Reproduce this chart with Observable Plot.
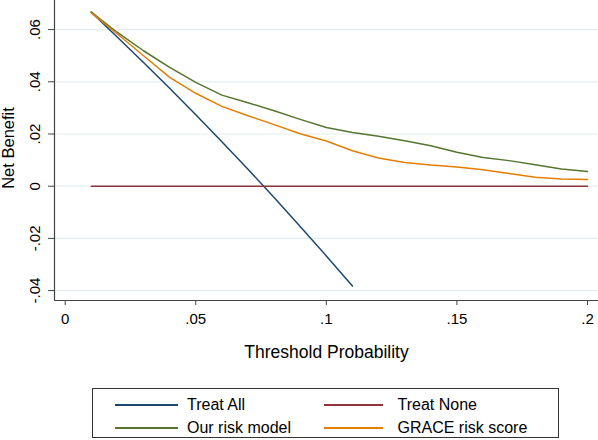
<!DOCTYPE html>
<html><head><meta charset="utf-8">
<script src="https://cdn.jsdelivr.net/npm/d3@7"></script>
<script src="https://cdn.jsdelivr.net/npm/@observablehq/plot@0.6"></script>
<style>
body{margin:0;background:#fff;font-family:"Liberation Sans",Arial,sans-serif;}
#wrap{position:relative;width:598px;height:440px;overflow:hidden;background:#fff;}
#wrap svg{position:absolute;left:0;top:0;}
#legend{position:absolute;left:92px;top:388px;width:467px;height:50px;border:1px solid #333;box-sizing:border-box;}
.item{position:absolute;font-size:16px;color:#000;line-height:16px;white-space:nowrap;}
.sw{position:absolute;height:1.5px;}
</style></head><body><div id="wrap"></div>
<script>
const thresholds = [0.01,0.02,0.03,0.04,0.05,0.06,0.07,0.08,0.09,0.10,0.11,0.12,0.13,0.14,0.15,0.16,0.17,0.18,0.19,0.20];
const treatAll = [0.0667,0.0571,0.0474,0.0375,0.0274,0.0170,0.0065,-0.0043,-0.0154,-0.0267,-0.0382];
const treatNone = [0,0,0,0,0,0,0,0,0,0,0,0,0,0,0,0,0,0,0,0];
const ourModel = [0.0667,0.0589,0.0519,0.0455,0.0398,0.0349,0.0320,0.0289,0.0256,0.0225,0.0206,0.0191,0.0174,0.0155,0.0130,0.0110,0.0098,0.0082,0.0066,0.0056];
const graceScore = [0.0664,0.0583,0.0500,0.0417,0.0356,0.0306,0.0270,0.0236,0.0201,0.0173,0.0136,0.0108,0.0091,0.0081,0.0074,0.0063,0.0049,0.0034,0.0028,0.0026];
const seriesNames = ["Treat All","Treat None","Our risk model","GRACE risk score"];
const seriesColors = ["#1a476f","#90353b","#55752f","#e37e00"];
const xTicks = [0,0.05,0.1,0.15,0.2];
const xTickLabels = ["0",".05",".1",".15",".2"];
const yTicks = [-0.04,-0.02,0,0.02,0.04,0.06];
const yTickLabels = ["-.04","-.02","0",".02",".04",".06"];
const xTitle = "Threshold Probability";
const yTitle = "Net Benefit";

const rows = [];
[treatAll, treatNone, ourModel, graceScore].forEach((vals, s) =>
  vals.forEach((v, i) => rows.push({series: seriesNames[s], x: thresholds[i], y: v})));

const xDomain = [-0.00409, 0.20422];
const yDomain = [-0.04379, 0.07115];

const chart = Plot.plot({
  width: 598, height: 380,
  marginLeft: 54, marginRight: 0, marginTop: 0, marginBottom: 80,
  style: {fontFamily: "Liberation Sans, Arial, sans-serif", color: "#000", background: "white"},
  x: {domain: xDomain},
  y: {domain: yDomain},
  color: {domain: seriesNames, range: seriesColors},
  marks: [
    Plot.ruleY(yTicks, {stroke: "#e4edf0", strokeWidth: 1.2}),
    Plot.line(rows, {x: "x", y: "y", z: "series", stroke: "series", strokeWidth: 1.5}),
    Plot.ruleX([xDomain[0]], {stroke: "#444", strokeWidth: 1.2}),
    Plot.ruleY([yDomain[0]], {stroke: "#444", strokeWidth: 1.2}),
    Plot.axisX({ticks: xTicks, tickFormat: d => xTickLabels[xTicks.indexOf(d)], tickSize: 5, tickPadding: 8, fontSize: 15, label: null, stroke: "#444"}),
    Plot.axisY({ticks: yTicks, tickFormat: () => "", tickSize: 6, label: null, stroke: "#444"}),
    Plot.text(yTicks, {y: d => d, text: d => yTickLabels[yTicks.indexOf(d)], frameAnchor: "left", textAnchor: "middle", lineAnchor: "middle", dx: -19.5, rotate: -90, fontSize: 15}),
    Plot.text([xTitle], {frameAnchor: "bottom", textAnchor: "middle", lineAnchor: "middle", dy: 52, fontSize: 17.5}),
    Plot.text([yTitle], {frameAnchor: "left", textAnchor: "middle", lineAnchor: "middle", dx: -46, dy: -2.5, rotate: -90, fontSize: 16.5})
  ]
});
const wrap = document.getElementById("wrap");
wrap.appendChild(chart);

const legend = document.createElement("div");
legend.id = "legend";
const pos = [
  {sl: 22, sw: 63, tl: 94, cy: 16},
  {sl: 231, sw: 59, tl: 304.5, cy: 16},
  {sl: 22, sw: 63, tl: 94, cy: 39},
  {sl: 231, sw: 59, tl: 304.5, cy: 39}
];
seriesNames.forEach((name, i) => {
  const p = pos[i];
  const sw = document.createElement("div");
  sw.className = "sw";
  sw.style.left = p.sl + "px"; sw.style.width = p.sw + "px"; sw.style.top = (p.cy - 1) + "px";
  sw.style.background = seriesColors[i];
  legend.appendChild(sw);
  const t = document.createElement("div");
  t.className = "item";
  t.style.left = p.tl + "px"; t.style.top = (p.cy - 8) + "px";
  t.textContent = name;
  legend.appendChild(t);
});
wrap.appendChild(legend);
</script></body></html>
